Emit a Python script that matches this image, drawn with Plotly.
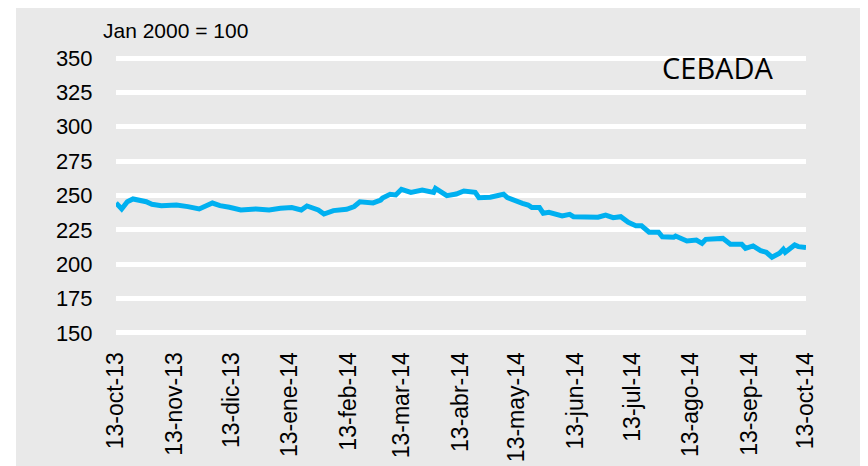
import plotly.graph_objects as go

dates = ["2013-10-13","2013-10-16","2013-10-19","2013-10-22","2013-10-29","2013-11-01","2013-11-06",
         "2013-11-14","2013-11-20","2013-11-26","2013-12-03","2013-12-07","2013-12-12","2013-12-18",
         "2013-12-26","2014-01-02","2014-01-08","2014-01-14","2014-01-19","2014-01-22","2014-01-28",
         "2014-01-31","2014-02-05","2014-02-12","2014-02-16","2014-02-19","2014-02-26","2014-03-02",
         "2014-03-03","2014-03-07","2014-03-10","2014-03-13","2014-03-18","2014-03-24","2014-03-30",
         "2014-03-31","2014-04-06","2014-04-11","2014-04-15","2014-04-21","2014-04-23","2014-04-29",
         "2014-05-06","2014-05-08","2014-05-16","2014-05-19","2014-05-21","2014-05-25","2014-05-27",
         "2014-05-30","2014-06-06","2014-06-10","2014-06-12","2014-06-19","2014-06-25","2014-06-29",
         "2014-07-03","2014-07-07","2014-07-11","2014-07-15","2014-07-18","2014-07-22","2014-07-27",
         "2014-07-29","2014-08-04","2014-08-05","2014-08-11","2014-08-16","2014-08-19","2014-08-21",
         "2014-08-30","2014-09-03","2014-09-09","2014-09-11","2014-09-15","2014-09-19","2014-09-22",
         "2014-09-25","2014-09-29","2014-10-01","2014-10-02","2014-10-07","2014-10-09","2014-10-13"]
values = [244.6,240.2,245.5,247.5,245.5,243.6,242.6,
          243.0,241.9,240.2,244.5,242.6,241.4,239.5,
          240.2,239.5,240.7,241.2,239.5,242.4,239.5,
          236.5,239.0,240.0,242.0,245.4,244.6,246.7,
          248.2,250.9,250.4,254.5,252.3,254.0,252.3,
          255.2,249.9,251.1,253.3,252.3,248.4,248.7,
          250.9,248.4,244.3,243.1,241.2,241.2,237.1,
          237.8,235.1,236.3,234.6,234.6,234.2,235.8,
          233.9,234.6,230.5,228.0,228.0,223.3,223.3,
          220.0,219.6,220.5,216.9,217.6,215.2,218.1,
          218.8,214.5,214.5,211.6,213.3,209.9,208.7,
          205.1,208.0,210.9,208.7,214.0,212.8,212.1]

tick_dates = ["2013-10-13","2013-11-13","2013-12-13","2014-01-13","2014-02-13","2014-03-13",
              "2014-04-13","2014-05-13","2014-06-13","2014-07-13","2014-08-13","2014-09-13","2014-10-13"]
tick_labels = ["13-oct-13","13-nov-13","13-dic-13","13-ene-14","13-feb-14","13-mar-14",
               "13-abr-14","13-may-14","13-jun-14","13-jul-14","13-ago-14","13-sep-14","13-oct-14"]
y_ticks = [150, 175, 200, 225, 250, 275, 300, 325, 350]

GRAY = "#e9e9e9"
OFF = 8  # default page body margin
W, H = 868 - OFF, 466 - OFF
ML, MR, MT, MB = 116 - OFF, 62, 48, 131
PW, PH = W - ML - MR, H - MT - MB
Y0, Y1 = 148.5, 351.5
PLOT_BOTTOM_PAGE = OFF + MT + PH  # page y of plot bottom


def py_to_paper(page_y):
    return (PLOT_BOTTOM_PAGE - page_y) / PH


fig = go.Figure()
fig.add_trace(go.Scatter(x=dates, y=values, mode="lines",
                         line=dict(color="#00B0F0", width=5), hoverinfo="skip"))

fig.update_layout(
    width=W, height=H,
    margin=dict(l=ML, r=MR, t=MT, b=MB, pad=0),
    paper_bgcolor="white", plot_bgcolor=GRAY,
    showlegend=False,
    font=dict(family="Liberation Sans, Arial, sans-serif", color="black", size=22),
    xaxis=dict(type="date", range=["2013-10-13", "2014-10-13"],
               tickvals=tick_dates, ticktext=tick_labels, tickangle=-90,
               showgrid=False, zeroline=False, showline=False, automargin=False,
               ticks="outside", ticklen=7, tickcolor="rgba(0,0,0,0)",
               tickfont=dict(size=23)),
    yaxis=dict(range=[Y0, Y1], tickvals=y_ticks, automargin=False,
               showgrid=True, gridcolor="white", gridwidth=4.5,
               zeroline=False, showline=False,
               ticks="outside", ticklen=18, tickcolor="rgba(0,0,0,0)",
               tickfont=dict(size=22)),
    shapes=[dict(type="rect", xref="paper", yref="paper", layer="below",
                 x0=(16 - 116) / PW, x1=(W - ML) / PW + 0.02,
                 y0=py_to_paper(470), y1=py_to_paper(7),
                 fillcolor=GRAY, line=dict(width=0))],
    annotations=[
        dict(text="Jan 2000 = 100", xref="paper", yref="paper",
             x=(101 - 116) / PW, y=py_to_paper(30), xanchor="left", yanchor="middle",
             showarrow=False, font=dict(size=21)),
        dict(text="CEBADA", xref="paper", yref="paper",
             x=(717 - 116) / PW, y=py_to_paper(68), xanchor="center", yanchor="middle",
             showarrow=False, font=dict(family="Open Sans, sans-serif", size=29)),
    ],
)

fig.write_html("out.html")
